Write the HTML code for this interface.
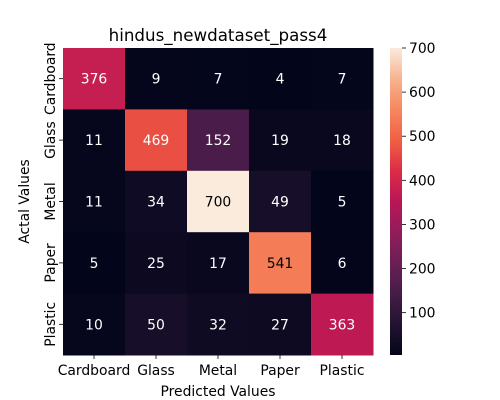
<!DOCTYPE html>
<html><head><meta charset="utf-8">
<style>
body{margin:0;background:#fff;}
svg{display:block;font-family:"DejaVu Sans","Liberation Sans",sans-serif;}
</style></head>
<body>
<svg id="chart" width="500" height="400"></svg>
<script>
const categories = ["Cardboard","Glass","Metal","Paper","Plastic"];
const matrixValues = [
  [376,9,7,4,7],
  [11,469,152,19,18],
  [11,34,700,49,5],
  [5,25,17,541,6],
  [10,50,32,27,363]
];
const colorbarTicks = [100,200,300,400,500,600,700];
const titleText = "hindus_newdataset_pass4";
const xTitle = "Predicted Values";
const yTitle = "Actal Values";

const NS="http://www.w3.org/2000/svg";
const svg=document.getElementById('chart');
function mk(tag,attrs,parent){const e=document.createElementNS(NS,tag);for(const k in attrs)e.setAttribute(k,attrs[k]);(parent||svg).appendChild(e);return e;}

const L=63,T=48,W=310,H=307;
const FS=13.9;
const n=categories.length;
const cw=W/n, ch=H/n;
const all=matrixValues.flat();
const vmin=Math.min(...all), vmax=Math.max(...all);
const stops=[[0,[3,5,26]],[0.1,[34,19,49]],[0.2,[69,28,71]],[0.3,[106,31,86]],[0.4,[146,28,91]],[0.5,[185,22,87]],[0.6,[221,44,69]],[0.7,[240,96,67]],[0.8,[245,136,96]],[0.9,[247,179,143]],[1,[250,235,221]]];
function cmap(t){t=Math.max(0,Math.min(1,t));for(let i=1;i<stops.length;i++){if(t<=stops[i][0]){const a=stops[i-1],b=stops[i];const f=(t-a[0])/(b[0]-a[0]);const c=a[1].map((v,j)=>Math.round(v+(b[1][j]-v)*f));return c;}}return stops[stops.length-1][1];}
function xPos(j){return L+j*cw;}
function yPos(i){return T+i*ch;}
function norm(v){return (v-vmin)/(vmax-vmin);}

for(let i=0;i<n;i++)for(let j=0;j<n;j++){
  const v=matrixValues[i][j];const c=cmap(norm(v));
  const r=mk('rect',{x:xPos(j),y:yPos(i),width:cw+0.5,height:ch+0.5,fill:`rgb(${c})`});
  
  
  const lum=(0.299*c[0]+0.587*c[1]+0.114*c[2])/255;
  const t=mk('text',{x:xPos(j)+cw/2,y:yPos(i)+ch/2+5,'text-anchor':'middle','font-size':FS,fill:lum>0.55?'#000':'#fff'});
  t.textContent=v;
  
  
}
categories.forEach((c,j)=>{
  const x=xPos(j)+cw/2;
  mk('line',{x1:x,x2:x,y1:T+H,y2:T+H+4,stroke:'#000','stroke-width':0.8});
  const t=mk('text',{x:x,y:T+H+20,'text-anchor':'middle','font-size':FS});
  t.textContent=c;
  
  
});
categories.forEach((c,i)=>{
  const y=yPos(i)+ch/2;
  mk('line',{x1:L-4,x2:L,y1:y,y2:y,stroke:'#000','stroke-width':0.8});
  const t=mk('text',{x:0,y:0,'text-anchor':'middle','font-size':FS,transform:`translate(${L-8},${y}) rotate(-90)`});
  t.textContent=c;
  
  
});
let t=mk('text',{x:L+W/2,y:41,'text-anchor':'middle','font-size':16.7});
t.textContent=titleText;


t=mk('text',{x:L+W/2,y:396,'text-anchor':'middle','font-size':FS});
t.textContent=xTitle;


t=mk('text',{x:0,y:0,'text-anchor':'middle','font-size':FS,transform:`translate(29,${T+H/2}) rotate(-90)`});
t.textContent=yTitle;



const CX=390,CW=12;
const defs=mk('defs',{});
const g=mk('linearGradient',{id:'cb',x1:0,y1:1,x2:0,y2:0},defs);
for(let k=0;k<=20;k++){const c=cmap(k/20);mk('stop',{offset:k/20,'stop-color':`rgb(${c})`},g);}
const cb=mk('rect',{x:CX,y:T,width:CW,height:H,fill:'url(#cb)'});


function cbY(v){return T+H-norm(v)*H;}
colorbarTicks.forEach(v=>{
  const y=cbY(v);
  mk('line',{x1:CX+CW,x2:CX+CW+4,y1:y,y2:y,stroke:'#000','stroke-width':0.8});
  const tt=mk('text',{x:CX+CW+7,y:y+5,'font-size':FS});
  tt.textContent=v;
  
  
});
</script>
</body></html>
